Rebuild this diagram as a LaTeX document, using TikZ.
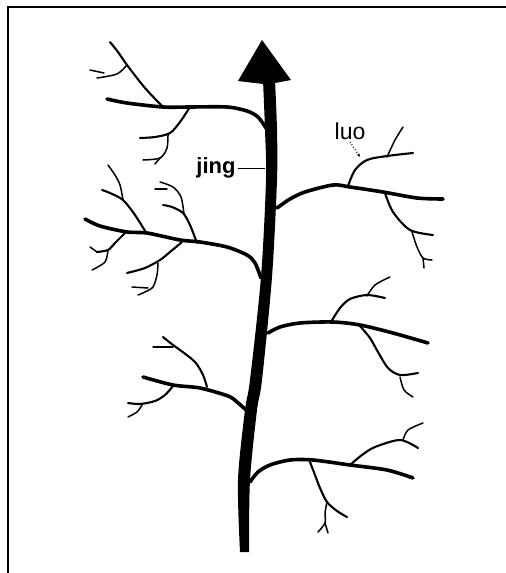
\documentclass[tikz,border=0pt]{standalone}
\usepackage{fontspec}
\setmainfont{Liberation Sans}
\usetikzlibrary{arrows.meta,positioning}
\tikzset{
  limb/.style={line width=1.8pt, line cap=round, line join=round},
  shoot/.style={line width=1.05pt, line cap=round, line join=round},
  sprig/.style={line width=0.75pt, line cap=round, line join=round},
  lbl/.style={font=\fontsize{11}{12}\selectfont, inner sep=1pt},
  lead/.style={line width=0.5pt},
}

\begin{document}
\begin{tikzpicture}[x=0.5pt, y=-0.5pt]
    \useasboundingbox (0,0) rectangle (506,573);
    % frame
    \draw[line width=1pt] (8,573) -- (8,7) -- (506,7);
    % trunk (jing) with head
    \fill plot[smooth] coordinates {(263,80) (265,130) (266,180) (261,277) (250,380) (245,410) (238,480) (240,552)}
      -- plot[smooth] coordinates {(249,552) (250,480) (257,410) (262,380) (272,277) (277,180) (277,130) (275,80)} -- cycle;
    \fill (262,40) -- (291,80) -- (275,83) -- (263,84) -- (238,81) -- cycle;
    % branch A
    \draw[limb] plot[smooth] coordinates {(266,128) (258,117) (247,111) (227,107) (190,107) (163,107) (127,103) (107,99)};
    \draw[shoot] plot[smooth] coordinates {(163,107) (145,88) (127,65) (118,52) (110,42)};
    \draw[sprig] plot[smooth] coordinates {(127,65) (117,74) (97,78)};
    \draw[sprig] (104,73) -- (90,70);
    \draw[shoot] plot[smooth] coordinates {(190,107) (180,122) (170,133) (155,137) (140,138)};
    \draw[sprig] plot[smooth] coordinates {(168,134) (167,148) (160,158) (143,160)};
    \draw[sprig] (160,158) -- (155,164);
    % branch B
    \draw[limb] plot[smooth] coordinates {(277,208) (290,199) (305,192) (333,185) (350,187) (383,192) (417,198) (443,199)};
    \draw[shoot] plot[smooth] coordinates {(348,186) (355,170) (367,160) (387,156) (413,153)};
    \draw[sprig] plot[smooth] coordinates {(387,157) (395,140) (403,127)};
    \draw[shoot] plot[smooth] coordinates {(385,193) (393,212) (410,230) (433,235)};
    \draw[sprig] plot[smooth] coordinates {(412,232) (417,247) (423,258) (432,260)};
    \draw[sprig] (423,258) -- (424,268);
    % branch C
    \draw[limb] plot[smooth] coordinates {(261,278) (255,263) (247,255) (227,247) (200,242) (180,240) (147,233) (127,232) (100,226) (85,219)};
    \draw[shoot] plot[smooth] coordinates {(147,234) (135,215) (123,200) (110,193) (102,190)};
    \draw[sprig] plot[smooth] coordinates {(123,200) (120,185) (115,175) (108,165)};
    \draw[shoot] plot[smooth] coordinates {(125,233) (115,243) (108,250) (97,252)};
    \draw[sprig] (97,252) -- (90,247);
    \draw[sprig] plot[smooth] coordinates {(108,250) (105,262) (92,270)};
    \draw[shoot] plot[smooth] coordinates {(197,243) (190,225) (183,213) (172,207) (163,205)};
    \draw[sprig] plot[smooth] coordinates {(184,214) (181,197) (173,187) (160,182)};
    \draw[sprig] (167,189) -- (155,189);
    \draw[shoot] plot[smooth] coordinates {(182,242) (170,252) (160,260) (145,268) (127,273)};
    \draw[sprig] plot[smooth] coordinates {(158,263) (157,275) (153,287) (145,292) (138,295)};
    \draw[sprig] (148,288) -- (132,287);
    % branch D
    \draw[limb] plot[smooth] coordinates {(268,333) (280,327) (300,323) (333,322) (360,325) (393,333) (428,343)};
    \draw[shoot] plot[smooth] coordinates {(331,322) (340,308) (350,299) (367,295) (385,298)};
    \draw[sprig] plot[smooth] coordinates {(367,296) (375,285) (390,277)};
    \draw[shoot] plot[smooth] coordinates {(360,326) (370,338) (378,352) (388,368) (400,375) (418,373)};
    \draw[sprig] plot[smooth] coordinates {(400,377) (404,390) (413,397)};
    % branch E
    \draw[limb] plot[smooth] coordinates {(246,410) (237,402) (228,396) (200,388) (173,385) (143,377)};
    \draw[shoot] plot[smooth] coordinates {(207,387) (203,375) (195,362) (180,350) (173,345) (163,337)};
    \draw[sprig] (173,347) -- (153,347);
    \draw[shoot] plot[smooth] coordinates {(173,386) (165,395) (155,401) (140,404) (128,403)};
    \draw[sprig] plot[smooth] coordinates {(142,405) (137,412) (128,417)};
    % branch F
    \draw[limb] plot[smooth] coordinates {(250,482) (258,472) (270,465) (290,460) (313,460) (350,465) (387,470) (413,478)};
    \draw[shoot] plot[smooth] coordinates {(350,465) (362,455) (375,447) (400,440) (418,448)};
    \draw[sprig] plot[smooth] coordinates {(403,440) (408,430) (423,423)};
    \draw[shoot] plot[smooth] coordinates {(310,462) (315,475) (320,488) (327,502) (337,511) (347,517)};
    \draw[sprig] plot[smooth] coordinates {(327,502) (325,513) (325,523) (318,532)};
    \draw[sprig] (325,523) -- (328,533);
    % labels
    \node[lbl, font=\fontsize{11}{12}\selectfont\bfseries] (jing) at (216,168) {jing};
    \coordinate (jingtip) at (265,168);
    \draw[lead] (jing.east) -- (jingtip);
    \node[lbl, font=\fontsize{11.5}{12}\selectfont] (luo) at (350,131) {luo};
    \coordinate (luotip) at (360,157);
    \draw[lead, densely dotted, -{Stealth[length=2pt]}] (luo.south) -- (luotip);
\end{tikzpicture}
\end{document}
